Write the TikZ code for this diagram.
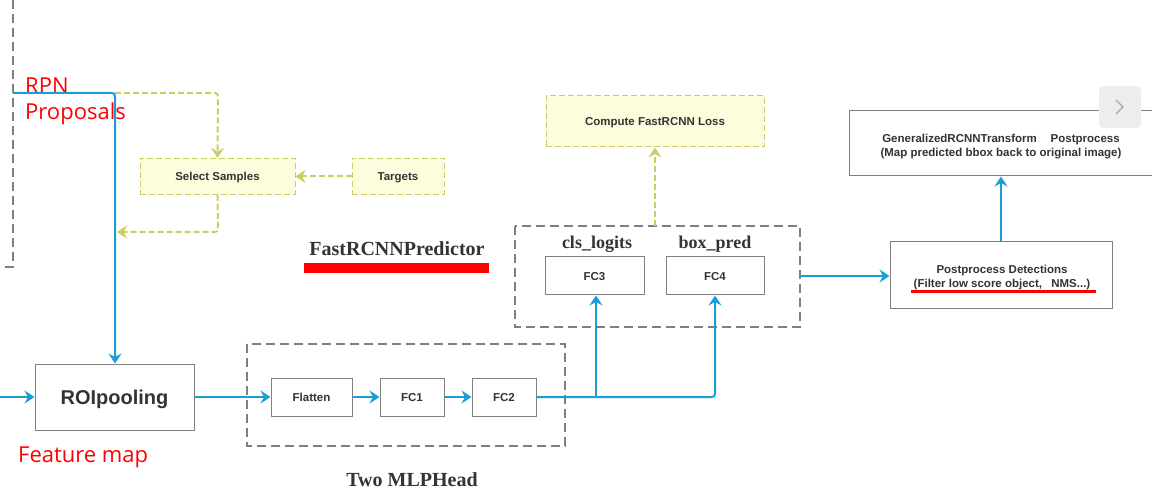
\documentclass[tikz,border=0pt]{standalone}
\usepackage{fontspec}
\setmainfont{Liberation Sans}
\newfontfamily\serifbold{Liberation Serif}
\newfontfamily\redfont{Open Sans}
\usetikzlibrary{arrows.meta}
\definecolor{bluec}{RGB}{27,158,214}
\definecolor{yelc}{RGB}{204,204,100}
\definecolor{yelfill}{RGB}{253,253,222}
\definecolor{grayc}{RGB}{128,128,128}
\definecolor{txtc}{RGB}{51,51,51}
\definecolor{redc}{RGB}{255,0,0}
\tikzset{
  box/.style={draw=grayc, line width=1pt, fill=white, inner sep=0pt, align=center,
    text=txtc, font=\fontsize{11.5}{13}\selectfont\bfseries, text height=8.2pt, text depth=0pt},
  ybox/.style={box, draw=yelc, dash pattern=on 6pt off 3pt, line width=1pt, fill=yelfill},
  grp/.style={draw=grayc, line width=1.4pt, dash pattern=on 9pt off 5pt},
  tip/.style={-{Stealth[length=10pt,width=13pt,inset=3.5pt]}},
  bl/.style={draw=bluec, line width=2pt, tip, rounded corners=3pt},
  yl/.style={draw=yelc, line width=2pt, dash pattern=on 6pt off 3pt, tip, rounded corners=3pt},
  lbl/.style={text=txtc, font=\fontsize{18}{20}\selectfont\serifbold\bfseries, inner sep=0pt},
  redlbl/.style={text=redc, font=\fontsize{22}{26}\selectfont\redfont, inner sep=0pt, align=left},
}
\begin{document}
\begin{tikzpicture}[x=1pt,y=-1pt]
\useasboundingbox[fill=white] (0,0) rectangle (1152,497);

% outer dashed corner (left)
\draw[grp] (13,0) -- (13,267) -- (5,267);

% group boxes
\draw[grp] (247,344) rectangle (565,446);
\draw[grp] (515,226) rectangle (800,327);

% nodes
\node[box, minimum width=159pt, minimum height=66pt, font=\fontsize{20}{22}\selectfont\bfseries, text height=14.3pt] (roi) at (114.5,397) {ROIpooling};
\node[box, minimum width=81pt, minimum height=38pt] (flat) at (311.5,397) {Flatten};
\node[box, minimum width=64pt, minimum height=38pt] (fc1) at (412,397) {FC1};
\node[box, minimum width=64pt, minimum height=38pt] (fc2) at (504,397) {FC2};
\node[box, minimum width=99pt, minimum height=38pt] (fc3) at (594.5,276) {FC3};
\node[box, minimum width=98pt, minimum height=38pt] (fc4) at (715,276) {FC4};
\node[ybox, minimum width=155pt, minimum height=36pt] (sel) at (217.5,176.5) {Select Samples};
\node[ybox, minimum width=92pt, minimum height=36pt] (tgt) at (398,176.5) {Targets};
\node[ybox, minimum width=218pt, minimum height=51pt] (loss) at (655,121.5) {Compute FastRCNN Loss};
\node[box, minimum width=222pt, minimum height=67pt] (post) at (1001,275.5) {};
\node[box, minimum width=311pt, minimum height=65pt] (gen) at (1004.5,143.5) {};
\node[text=txtc, font=\fontsize{11.5}{14}\selectfont\bfseries, align=center, inner sep=0pt] (gentxt) at (1001,146.5) {GeneralizedRCNNTransform\hspace{1.2em}Postprocess\\(Map predicted bbox back to original image)};
\node[text=txtc, font=\fontsize{11.5}{14}\selectfont\bfseries, align=center, inner sep=0pt] (posttxt) at (1002,278) {Postprocess Detections\\(Filter low score object,\hspace{0.8em}NMS...)};

% UI button
\node[draw=none, fill=black!7, rounded corners=5pt, minimum width=42pt, minimum height=42pt, inner sep=0pt] (btn) at (1120,107) {};
\draw[black!35, line width=1.3pt] (1116,100) -- (1123,107) -- (1116,114);

% labels
\node[lbl] (cls) at (597,244) {cls\_logits};
\node[lbl] (bpred) at (715,244) {box\_pred};
\node[lbl, font=\fontsize{20}{22}\selectfont\serifbold\bfseries] (pred) at (397,249) {FastRCNNPredictor};
\node[lbl, font=\fontsize{20}{22}\selectfont\serifbold\bfseries] (mlp) at (412,480) {Two MLPHead};
\fill[redc] (304,263) rectangle (489,273);
\draw[redc, line width=3pt] (911,292) -- (1096,292);
\node[redlbl, anchor=west] (rpn) at (25,101) {RPN\\Proposals};
\node[redlbl, anchor=west] (fmap) at (18,457) {Feature map};

% coordinates
\coordinate (in) at (0,397);
\coordinate (p0) at (13,93);
\coordinate (p1) at (115,93);
\coordinate (y1) at (218,93);
\coordinate (y2) at (218,232);
\coordinate (y3) at (117,232);
\coordinate (br) at (596,397);
\coordinate (br2) at (715,397);
\coordinate (pr) at (800,276);
\coordinate (lossup) at (655,226);

% blue connectors
\draw[bl] (in) -- (roi.west);
\draw[bl] (p0) -- (p1) -- (roi.north -| p1);
\draw[bl] (roi.east) -- (flat.west);
\draw[bl] (flat.east) -- (fc1.west);
\draw[bl] (fc1.east) -- (fc2.west);
\draw[bl] (fc2.east) -- (br2) -- (fc4.south);
\draw[bl, sharp corners] (br) -- (fc3.south -| br);
\draw[bl] (pr) -- (post.west |- pr);
\draw[bl] (post.north -| gentxt) -- (gen.south -| gentxt);

% yellow connectors
\draw[yl] (p1) -- (y1) -- (sel.north);
\draw[yl] (tgt.west) -- (sel.east);
\draw[yl] (sel.south) -- (y2) -- (y3);
\draw[yl] (lossup) -- (loss.south -| lossup);
\end{tikzpicture}
\end{document}
